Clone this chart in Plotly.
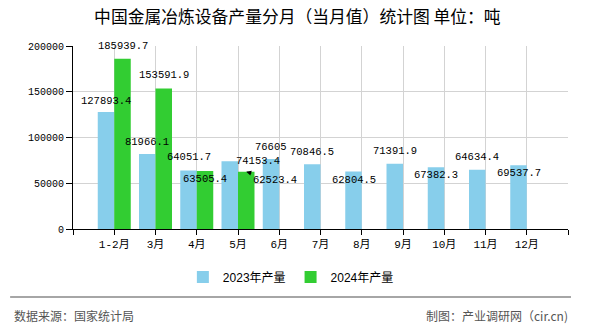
import numpy as np
import plotly.graph_objects as go

# ---- data ----
categories = ["1-2月", "3月", "4月", "5月", "6月", "7月", "8月", "9月", "10月", "11月", "12月"]
prod_2023 = [127893.4, 81966.1, 64051.7, 74153.4, 76605, 70846.5, 62804.5, 71391.9, 67382.3, 64634.4, 69537.7]
prod_2024 = [185939.7, 153591.9, 63505.4, 62523.4]
series_names = ["2023年产量", "2024年产量"]
y_ticks = [0, 50000, 100000, 150000, 200000]

# ---- label placement styles (pixel offsets from bar top centre; +dy = down) ----
dy_2023 = [-11, -12, -13, 0, -12, -12, 8, -13, 8, -13, 8]
dx_2023 = [0, 0, 0, 28.5, 0, 0, 0, 0, 0, 0, 0]
dy_2024 = [-13, -13, 8, 8]
dx_2024 = [0, 0, 0, 28.5]
arrow_2024 = [False, False, False, True]

C_BLUE = "#87CEEB"
C_GREEN = "#32CD32"
MONO = "Liberation Mono, Noto Sans CJK SC"


def fmt(v):
    return str(v)


x_idx = np.arange(len(categories))
y2024 = list(prod_2024) + [None] * (len(categories) - len(prod_2024))

fig = go.Figure()
fig.add_trace(go.Bar(x=x_idx, y=prod_2023, name=series_names[0], marker_color=C_BLUE,
                     marker_line_width=0))
fig.add_trace(go.Bar(x=x_idx, y=y2024, name=series_names[1], marker_color=C_GREEN,
                     marker_line_width=0))

BAR_OFF = 8.25  # half bar width in px (group offset)
annos = []
for i, v in enumerate(prod_2023):
    annos.append(dict(x=x_idx[i], y=v, xref="x", yref="y", text=fmt(v),
                      showarrow=False, xanchor="center", yanchor="middle",
                      xshift=-BAR_OFF + dx_2023[i], yshift=-dy_2023[i],
                      font=dict(family=MONO, size=10.5, color="#000")))
for i, v in enumerate(prod_2024):
    if arrow_2024[i]:
        annos.append(dict(x=x_idx[i], y=v, xref="x", yref="y", text=fmt(v),
                          showarrow=True, arrowhead=2, arrowsize=1, arrowwidth=1,
                          arrowcolor="#000", ax=dx_2024[i], ay=dy_2024[i],
                          xshift=BAR_OFF,
                          font=dict(family=MONO, size=10.5, color="#000")))
    else:
        annos.append(dict(x=x_idx[i], y=v, xref="x", yref="y", text=fmt(v),
                          showarrow=False, xanchor="center", yanchor="middle",
                          xshift=BAR_OFF + dx_2024[i], yshift=-dy_2024[i],
                          font=dict(family=MONO, size=10.5, color="#000")))

# footer texts
annos.append(dict(xref="paper", yref="paper", x=-0.124, y=-0.47, xanchor="left", yanchor="middle",
                  text="数据来源：国家统计局", showarrow=False,
                  font=dict(family="Noto Sans CJK SC", size=12, color="#555")))
annos.append(dict(xref="paper", yref="paper", x=1.004, y=-0.47, xanchor="right", yanchor="middle",
                  text="制图：产业调研网（cir.cn)", showarrow=False,
                  font=dict(family="Noto Sans CJK SC", size=12, color="#555")))

tickvals = [-1] + list(x_idx) + [len(categories)]
ticktext = [""] + categories + [""]

fig.update_layout(
    width=590, height=330,
    margin=dict(l=73, r=22, t=46, b=101, pad=0),
    paper_bgcolor="white", plot_bgcolor="white",
    barmode="group", bargap=0.2, bargroupgap=0,
    title=dict(text="中国金属冶炼设备产量分月（当月值）统计图 单位：吨",
               x=0.504, xref="container", xanchor="center",
               y=1 - 17 / 330, yref="container", yanchor="middle",
               font=dict(family="Noto Sans CJK SC", size=16.8, color="#000")),
    xaxis=dict(range=[-1, len(categories)], tickmode="array", tickvals=tickvals, ticktext=ticktext,
               showgrid=True, gridcolor="#d3d3d3", gridwidth=1,
               showline=True, linecolor="#000", linewidth=1,
               ticks="outside", ticklen=5, tickcolor="#000",
               tickfont=dict(family=MONO, size=11, color="#000"), zeroline=False),
    yaxis=dict(range=[0, 200000], tickmode="array", tickvals=y_ticks,
               ticktext=[str(t) for t in y_ticks],
               showgrid=True, gridcolor="#d3d3d3", gridwidth=1,
               showline=True, linecolor="#000", linewidth=1,
               ticks="outside", ticklen=6, tickcolor="#000",
               tickfont=dict(family=MONO, size=10, color="#000"), zeroline=False),
    legend=dict(orientation="h", xref="container", x=0.493, xanchor="center",
                yref="container", y=1 - 277 / 330, yanchor="middle",
                font=dict(family="Liberation Sans, Noto Sans CJK SC", size=12, color="#000"),
                itemwidth=30, tracegroupgap=0),
    annotations=annos,
    shapes=[dict(type="line", xref="paper", yref="paper", x0=-0.127, x1=1.006,
                 y0=-0.372, y1=-0.372, line=dict(color="#888", width=1.5))],
    showlegend=True,
)

fig.write_html("out.html")
